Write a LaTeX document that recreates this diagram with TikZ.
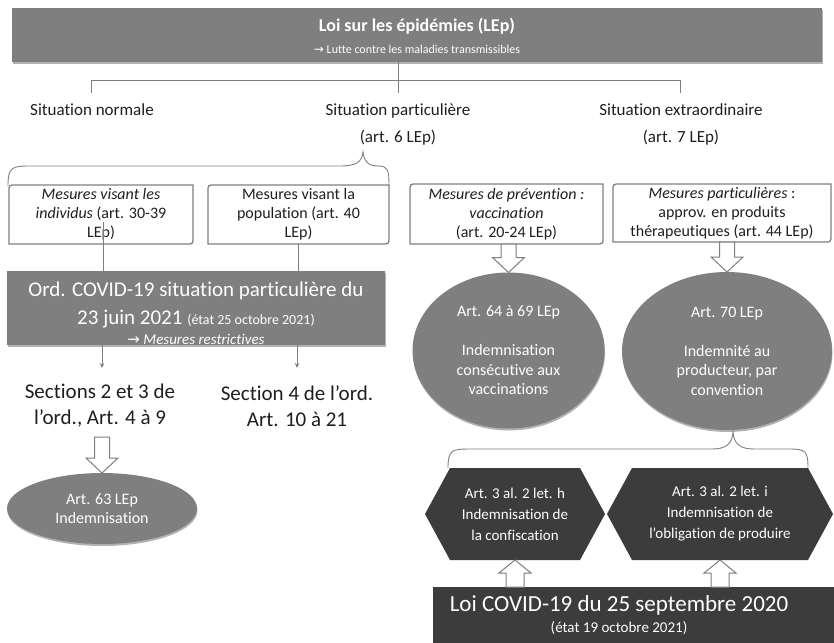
\documentclass[tikz,border=0pt]{standalone}
\usepackage{fontspec}
\setmainfont{Carlito}[Ligatures=NoCommon]
\newfontfamily\symf{DejaVu Sans}
\usetikzlibrary{shapes.geometric,shadows,calc,arrows.meta}
\definecolor{midgray}{HTML}{7F7F7F}
\definecolor{darkfill}{HTML}{3C3C3C}
\definecolor{linegray}{HTML}{7F7F7F}
\definecolor{txt}{HTML}{1E1E1E}
\pgfdeclarelayer{bg}
\pgfsetlayers{bg,main}
\newcommand\arr{{\symf →}}
\tikzset{
  shd/.style={drop shadow={shadow xshift=0.5pt,shadow yshift=-2pt,opacity=0.3,fill=black}},
  graybox/.style={fill=midgray,text=white,draw=none,outer sep=0pt,inner sep=0pt,align=center,shd},
  darkbox/.style={fill=darkfill,text=white,draw=none,outer sep=0pt,inner sep=0pt,align=center},
  grayell/.style={ellipse,fill=midgray,text=white,draw=none,outer sep=0pt,inner sep=0pt,align=center,shd,font=\fontsize{16}{19.5}\selectfont},
  hexnode/.style={outer sep=0pt,inner sep=0pt,text=white,align=center,font=\fontsize{15}{21}\selectfont},
  mbox/.style={outer sep=0pt,inner sep=0pt,align=center,text=txt,font=\fontsize{16}{19}\selectfont},
  boxline/.style={draw=linegray,line width=1.3pt},
  lbl/.style={align=center,text=txt,inner sep=0pt},
  tree/.style={draw=linegray,line width=0.9pt},
  brace/.style={draw=linegray,line width=0.9pt},
  thinarrow/.style={draw=linegray,line width=0.9pt,-{Stealth[length=5pt,width=4.5pt]}},
  blockarrow/.style={draw=linegray,fill=white,line width=1pt,line join=miter},
}
\newcommand\diagbox[1]{%
  \draw[boxline] ([xshift=7pt]#1.north west) -- (#1.north east) -- ([yshift=7pt]#1.south east)
    .. controls (#1.south east) .. ([xshift=-7pt]#1.south east) -- (#1.south west)
    -- ([yshift=-7pt]#1.north west) .. controls (#1.north west) .. cycle;}
\newcommand\blockdown[2]{%
  \draw[blockarrow] let \p1=(#1), \p2=(#2) in
    (\x1-7.5pt,\y1) -- (\x1+7.5pt,\y1) -- (\x1+7.5pt,\y2+15pt) -- (\x1+16pt,\y2+15pt)
    -- (\x1,\y2) -- (\x1-16pt,\y2+15pt) -- (\x1-7.5pt,\y2+15pt) -- cycle;}
\newcommand\blockup[2]{%
  \draw[blockarrow] let \p1=(#1), \p2=(#2) in
    (\x1-9pt,\y1) -- (\x1+9pt,\y1) -- (\x1+9pt,\y2-13pt) -- (\x1+16pt,\y2-13pt)
    -- (\x1,\y2) -- (\x1-16pt,\y2-13pt) -- (\x1-9pt,\y2-13pt) -- cycle;}
\begin{document}
\begin{tikzpicture}[x=1pt,y=-1pt]
\useasboundingbox (0,0) rectangle (834,642);

% top bar
\node[graybox,minimum width=810pt,minimum height=54pt,font=\fontsize{18}{22}\selectfont] (top) at (417,35)
  {\rule{0pt}{16pt}\bfseries Loi sur les épidémies (LEp)\\
   \fontsize{12}{22}\selectfont\mdseries \arr\ Lutte contre les maladies transmissibles};

% situations
\node[lbl,font=\fontsize{17}{27}\selectfont] (sn) at (92,110) {Situation normale};
\node[lbl,font=\fontsize{17}{27}\selectfont] (sp) at (398,124) {Situation particulière\\(art. 6 LEp)};
\node[lbl,font=\fontsize{17}{27}\selectfont] (sx) at (681,124) {Situation extraordinaire\\(art. 7 LEp)};
\coordinate (tj) at (398,80);
\draw[tree] (tj |- top.south) -- (tj);
\draw[tree] (91,80) -- (680,80);
\draw[tree] (91,80) -- (91,93);
\draw[tree] (tj) -- (398,93);
\draw[tree] (680,80) -- (680,93);

% brace 1
\coordinate (br1l) at (8,186);
\coordinate (br1t) at (363,152);
\coordinate (br1r) at (389,186);
\draw[brace] (br1l) .. controls (8,167) and (12,166) .. (30,166) -- (340,166)
  .. controls (356,166) and (362,162) .. (br1t)
  .. controls (364,162) and (369,166) .. (378,166)
  .. controls (388,166) and (389,170) .. (br1r);

% measure boxes
\node[mbox,minimum width=184pt,minimum height=59pt] (b1) at (101,214.5)
  {\textit{Mesures visant les}\\\textit{individus} (art. 30-39\\LEp)};
\node[mbox,minimum width=181pt,minimum height=59pt] (b2) at (298.5,214.5)
  {Mesures visant la\\population (art. 40\\LEp)};
\node[mbox,minimum width=193pt,minimum height=60pt] (b3) at (506.5,214)
  {\textit{Mesures de prévention :}\\\textit{vaccination}\\(art. 20-24 LEp)};
\node[mbox,minimum width=218pt,minimum height=58pt] (b4) at (722,213)
  {\textit{Mesures particulières} :\\approv. en produits\\thérapeutiques (art. 44 LEp)};
\diagbox{b1}
\diagbox{b2}
\diagbox{b3}
\diagbox{b4}

% ordinance box
\node[graybox,minimum width=378pt,minimum height=74pt,font=\fontsize{21}{28}\selectfont] (ord) at (196,308)
  {\rule{0pt}{25pt}Ord. COVID-19 situation particulière du\\
   23 juin 2021 {\fontsize{14}{28}\selectfont(état 25 octobre 2021)}\\[-8pt]
   \fontsize{15}{28}\selectfont\itshape \arr\ Mesures restrictives};
\draw[tree] ([xshift=2pt,yshift=-7pt]b1.center) -- ([xshift=2pt]b1.center |- ord.north);
\draw[tree] (b2.south) -- (b2.south |- ord.north);

% sections
\node[lbl,font=\fontsize{21}{26}\selectfont] (s1) at (100,406) {Sections 2 et 3 de\\l’ord., Art. 4 à 9};
\node[lbl,font=\fontsize{21}{26}\selectfont] (s2) at (297,406) {Section 4 de l’ord.\\Art. 10 à 21};
\draw[thinarrow] (ord.south -| 102,0) -- ++(0,23);
\draw[thinarrow] (ord.south -| s2.north) -- ++(0,23);

% ellipses
\node[grayell,minimum width=190pt,minimum height=71pt] (e0) at (102,508.5) {Art. 63 LEp\\Indemnisation};
\node[grayell,minimum width=192pt,minimum height=156pt] (e1) at (508.5,350.5)
  {Art. 64 à 69 LEp\\[19.5pt]Indemnisation\\consécutive aux\\vaccinations};
\node[grayell,minimum width=210pt,minimum height=158pt] (e2) at (727,351)
  {Art. 70 LEp\\[19.5pt]Indemnité au\\producteur, par\\convention};

\blockdown{102,437}{e0.north}
\blockdown{b3.south -| e1.north}{e1.north}
\blockdown{b4.south -| e2.north}{e2.north}

% brace 2
\coordinate (br2l) at (448,468);
\coordinate (br2t) at (733,432);
\coordinate (br2r) at (808,468);
\draw[brace] (br2l) .. controls (448,450) and (452,449) .. (470,449) -- (712,449)
  .. controls (726,449) and (732,444) .. (br2t)
  .. controls (734,444) and (740,449) .. (754,449) -- (790,449)
  .. controls (806,449) and (808,452) .. (br2r);

% hexagons
\node[hexnode,minimum width=180pt,minimum height=92pt] (h1) at (515,514)
  {Art. 3 al. 2 let. h\\Indemnisation de\\la confiscation};
\node[hexnode,minimum width=226pt,minimum height=92pt] (h2) at (720,514)
  {Art. 3 al. 2 let. i\\Indemnisation de\\l’obligation de produire};
\begin{pgfonlayer}{bg}
\foreach \h in {h1,h2}{
  \fill[darkfill] (\h.west) -- ([xshift=25pt]\h.north west) -- ([xshift=-25pt]\h.north east)
    -- (\h.east) -- ([xshift=-25pt]\h.south east) -- ([xshift=25pt]\h.south west) -- cycle;}
\end{pgfonlayer}

% Loi COVID box
\node[darkbox,minimum width=372pt,minimum height=56pt,font=\fontsize{23}{21}\selectfont] (loi) at (619,615)
  {Loi COVID-19 du 25 septembre 2020\\
   \fontsize{15}{21}\selectfont (état 19 octobre 2021)};
\begin{pgfonlayer}{bg}
\fill[darkfill] ([xshift=-1pt]loi.north east) rectangle (835,643);
\end{pgfonlayer}
\blockup{loi.north -| h1.south}{h1.south}
\blockup{loi.north -| h2.south}{h2.south}
\end{tikzpicture}
\end{document}
